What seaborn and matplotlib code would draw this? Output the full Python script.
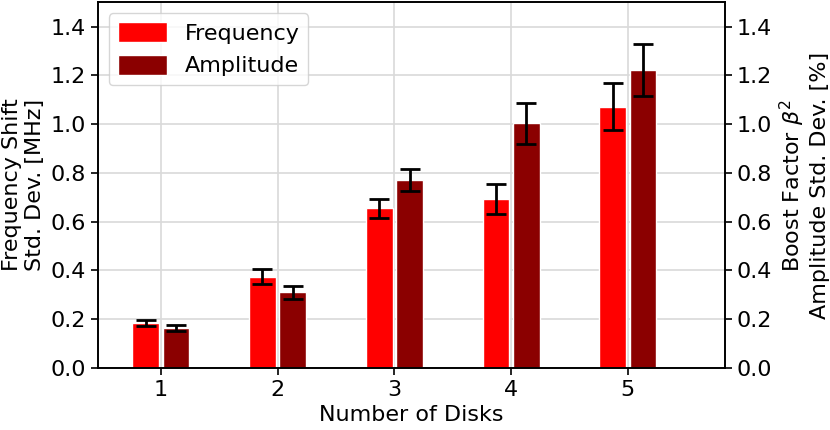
import numpy as np
import pandas as pd
import matplotlib
matplotlib.use("Agg")
import matplotlib.pyplot as plt
import seaborn as sb

# data
disks = [1, 2, 3, 4, 5]
freq = [0.185, 0.375, 0.655, 0.693, 1.072]
freq_err = [0.012, 0.032, 0.04, 0.06, 0.095]
amp = [0.163, 0.31, 0.77, 1.003, 1.222]
amp_err = [0.012, 0.027, 0.045, 0.085, 0.105]
series = ['Frequency', 'Amplitude']
colors = ['#ff0000', '#8b0000']

df = pd.DataFrame({
    'disks': disks * 2,
    'value': freq + amp,
    'err': freq_err + amp_err,
    'series': [series[0]] * 5 + [series[1]] * 5,
})

sb.set_style('whitegrid')
plt.rcParams['font.family'] = ['DejaVu Sans']
plt.rcParams['text.color'] = 'black'
plt.rcParams['axes.labelcolor'] = 'black'
plt.rcParams['xtick.color'] = 'black'
plt.rcParams['ytick.color'] = 'black'
fs = 16

fig = plt.figure(figsize=(8.3, 4.3), dpi=100)
ax = fig.add_axes([0.118, 0.144, 0.755, 0.851])
sb.barplot(data=df, x='disks', y='value', hue='series', palette=colors,
           width=0.52, gap=0.12, errorbar=None, ax=ax, saturation=1)

# error bars at the centres of the drawn bars
for p, (_, row) in zip(ax.patches, df.iterrows()):
    xc = p.get_x() + p.get_width() / 2
    ax.errorbar(xc, p.get_height(), yerr=row['err'], color='black',
                capsize=7.5, elinewidth=2, capthick=2, fmt='none', zorder=5)

ax.set_ylim(0, 1.5)
ax.set_xlim(-0.54, 4.83)
ax.set_yticks(np.arange(0, 1.41, 0.2))
ax.set_xlabel('Number of Disks', fontsize=fs)
ax.set_ylabel('Frequency Shift\nStd. Dev. [MHz]', fontsize=fs)
ax.grid(True, color='#d9d9d9', linewidth=1.2)
ax.set_axisbelow(True)
for s in ax.spines.values():
    s.set_color('black')
    s.set_linewidth(1.2)
ax.tick_params(axis='both', which='major', length=5, width=1.2, left=True, bottom=True, labelsize=fs)
ax.legend(loc='upper left', fontsize=fs, frameon=True, edgecolor='#cccccc',
          handlelength=2.2, handleheight=1.0)

ax2 = ax.twinx()
ax2.set_ylim(0, 1.5)
ax2.set_yticks(np.arange(0, 1.41, 0.2))
ax2.set_yticklabels(['%.1f' % v for v in np.arange(0, 1.41, 0.2)])
ax2.grid(False)
ax2.set_ylabel('Boost Factor $\\beta^2$\nAmplitude Std. Dev. [%]', fontsize=fs)
ax2.tick_params(axis='y', length=5, width=1.2, right=True, labelsize=fs)
for s in ax2.spines.values():
    s.set_color('black')
    s.set_linewidth(1.2)

fig.savefig('out.png', dpi=100)
